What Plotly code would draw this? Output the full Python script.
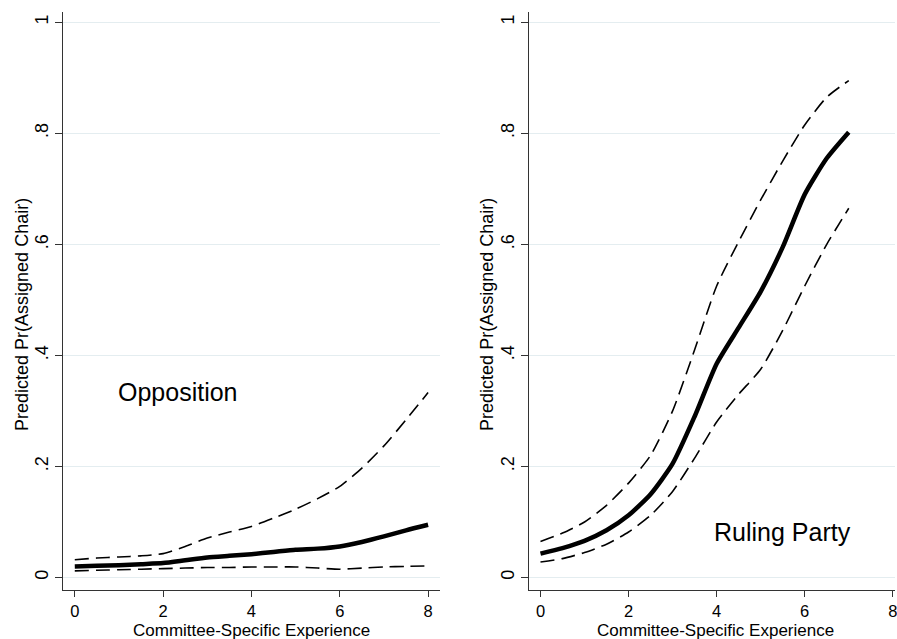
import plotly.graph_objects as go

# ---- data ----
x_opp = [0, 0.5, 1, 1.5, 2, 2.5, 3, 3.5, 4, 4.5, 5, 5.5, 6, 6.5, 7, 7.5, 8]
opp_pred = [0.020, 0.021, 0.022, 0.024, 0.026, 0.031, 0.036, 0.039, 0.042, 0.046,
            0.050, 0.052, 0.056, 0.064, 0.074, 0.085, 0.095]
opp_upper = [0.032, 0.035, 0.037, 0.039, 0.043, 0.056, 0.071, 0.082, 0.092, 0.107,
             0.123, 0.142, 0.164, 0.197, 0.237, 0.284, 0.333]
opp_lower = [0.012, 0.013, 0.014, 0.015, 0.016, 0.017, 0.018, 0.018, 0.019, 0.019,
             0.019, 0.017, 0.015, 0.017, 0.019, 0.020, 0.021]

x_rul = [0, 0.5, 1, 1.5, 2, 2.5, 3, 3.5, 4, 4.5, 5, 5.5, 6, 6.5, 7]
rul_pred = [0.043, 0.053, 0.066, 0.085, 0.112, 0.150, 0.205, 0.290, 0.385, 0.450,
            0.515, 0.595, 0.690, 0.755, 0.802]
rul_upper = [0.065, 0.080, 0.100, 0.130, 0.170, 0.220, 0.300, 0.410, 0.525, 0.605,
             0.680, 0.750, 0.815, 0.865, 0.895]
rul_lower = [0.028, 0.034, 0.045, 0.060, 0.082, 0.112, 0.155, 0.215, 0.280, 0.330,
             0.375, 0.445, 0.525, 0.600, 0.665]

y_tickvals = [0, 0.2, 0.4, 0.6, 0.8, 1]
y_ticktext = ["0", ".2", ".4", ".6", ".8", "1"]
x_tickvals = [0, 2, 4, 6, 8]
x_ticktext = ["0", "2", "4", "6", "8"]

x_title = "Committee-Specific Experience"
y_title = "Predicted Pr(Assigned Chair)"
panel_labels = ["Opposition", "Ruling Party"]

FONT = "Liberation Sans, Arial, sans-serif"
W, H = 897, 639

fig = go.Figure()

def add_panel(xa, ya, xs, pred, up, lo):
    dash = "14px,7px"
    for band in (up, lo):
        fig.add_trace(go.Scatter(x=xs, y=band, mode="lines", xaxis=xa, yaxis=ya,
                                 line=dict(color="black", width=1.6, dash=dash,
                                           shape="spline", smoothing=0.6),
                                 showlegend=False, hoverinfo="skip"))
    fig.add_trace(go.Scatter(x=xs, y=pred, mode="lines", xaxis=xa, yaxis=ya,
                             line=dict(color="black", width=4.5, shape="spline", smoothing=0.6),
                             showlegend=False, hoverinfo="skip"))

add_panel("x", "y", x_opp, opp_pred, opp_upper, opp_lower)
add_panel("x2", "y2", x_rul, rul_pred, rul_upper, rul_lower)

grid = "#e4edf0"
ydom = [1 - 590 / H, 1 - 11.7 / H]
yrange = [-0.0225, 1.019]

common_y = dict(range=yrange, domain=ydom, tickvals=y_tickvals, ticktext=y_ticktext,
                tickangle=-90, showline=True, linecolor="#333333", linewidth=1,
                ticks="outside", ticklen=7, tickcolor="#333333", tickwidth=1,
                showgrid=True, gridcolor=grid, gridwidth=1, zeroline=False,
                tickfont=dict(family=FONT, size=18, color="black"))
common_x = dict(tickvals=x_tickvals, ticktext=x_ticktext,
                showline=True, linecolor="#333333", linewidth=1,
                ticks="outside", ticklen=6, tickcolor="#333333", tickwidth=1,
                showgrid=False, zeroline=False,
                tickfont=dict(family=FONT, size=16.5, color="black"))

fig.update_layout(
    width=W, height=H,
    margin=dict(l=0, r=0, t=0, b=0),
    paper_bgcolor="white", plot_bgcolor="white",
    xaxis=dict(domain=[63 / W, 441 / W], range=[-0.27, 8.27], anchor="y", **common_x),
    yaxis=dict(anchor="x", **common_y),
    xaxis2=dict(domain=[530 / W, 1.0], range=[-0.265, 8.05], anchor="y2",
                ticklabeloverflow="allow", **common_x),
    yaxis2=dict(anchor="x2", **common_y),
)

# axis titles as annotations
for cx, cy in [(22, 314), (488, 314)]:
    fig.add_annotation(x=cx / W, y=1 - cy / H, xref="paper", yref="paper",
                       text=y_title, textangle=-90, showarrow=False,
                       font=dict(family=FONT, size=18, color="black"),
                       xanchor="center", yanchor="middle")
for cx in [252, 717]:
    fig.add_annotation(x=cx / W, y=1 - 630.5 / H, xref="paper", yref="paper",
                       text=x_title, showarrow=False,
                       font=dict(family=FONT, size=17, color="black"),
                       xanchor="center", yanchor="middle")

# panel labels
fig.add_annotation(x=2.33, y=0.334, xref="x", yref="y", text=panel_labels[0],
                   showarrow=False, font=dict(family=FONT, size=25, color="black"))
fig.add_annotation(x=5.49, y=0.082, xref="x2", yref="y2", text=panel_labels[1],
                   showarrow=False, font=dict(family=FONT, size=25, color="black"))

fig.write_html("out.html")
